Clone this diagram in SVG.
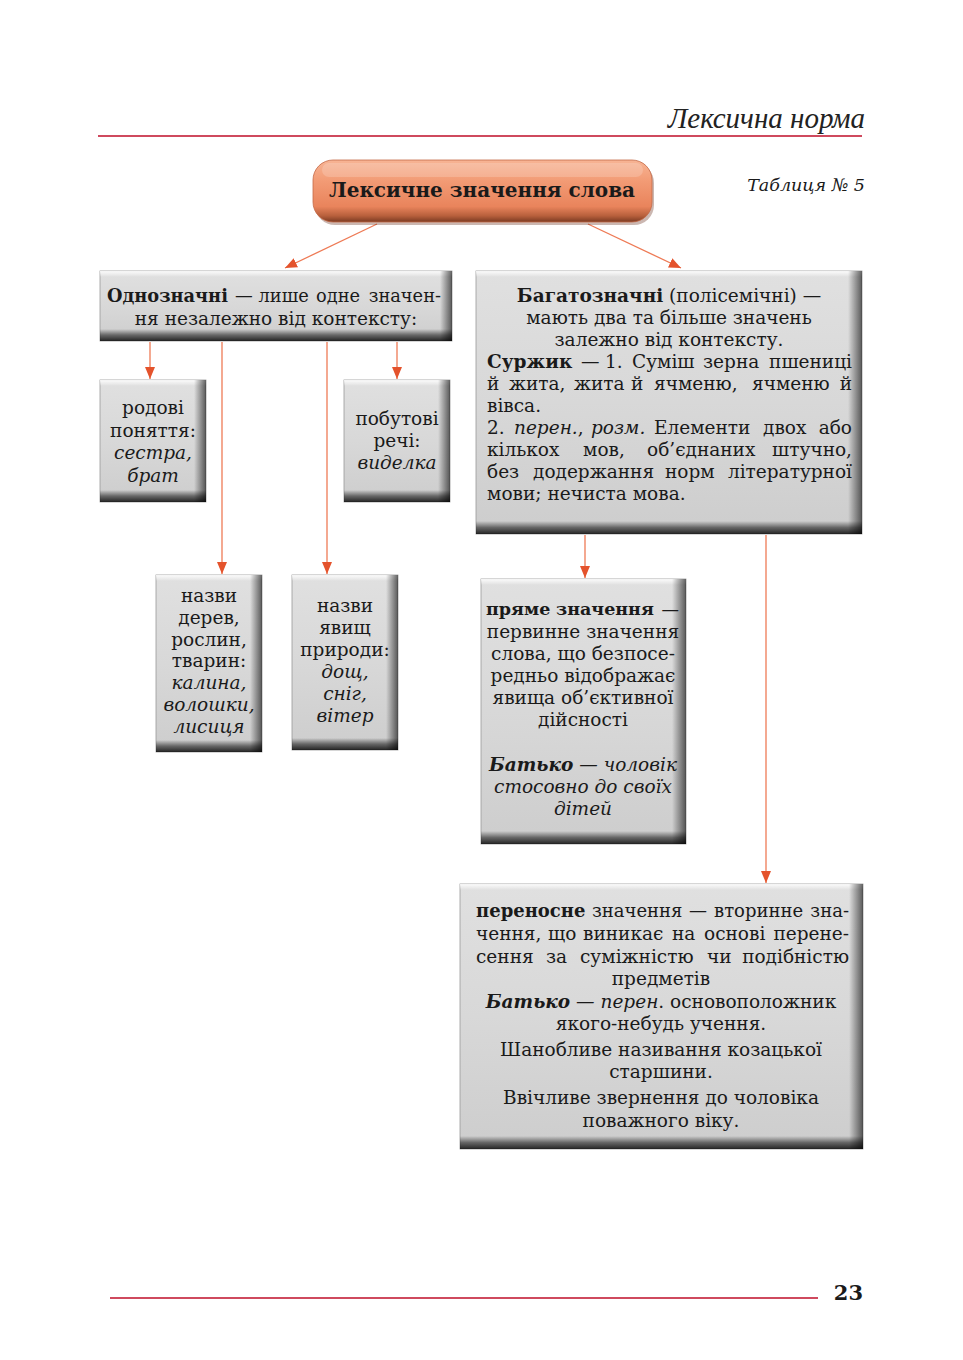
<svg xmlns="http://www.w3.org/2000/svg" width="963" height="1360" viewBox="0 0 963 1360">
<defs>
<style>
text{font-family:"DejaVu Serif","Liberation Serif",serif;font-size:18.5px;fill:#1a1a1a}
.c{text-anchor:middle}
.e{text-anchor:end}
.b{font-weight:bold}
.i{font-style:italic}
.body{fill:url(#gbody);stroke:#9a9a9a;stroke-width:0.8}
.rs{fill:url(#gr)}
.bs{fill:url(#gb)}
.ts{fill:url(#gt)}
.con{stroke:#ee7a55;stroke-width:1.3;fill:none;marker-end:url(#ah)}
.rule{stroke:#cf4a5e;stroke-width:2.2}
</style>
<linearGradient id="gbody" x1="0" y1="0" x2="0" y2="1">
<stop offset="0" stop-color="#e0e0e0"/><stop offset="0.5" stop-color="#d8d8d8"/><stop offset="1" stop-color="#cdcdcd"/>
</linearGradient>
<linearGradient id="gr" x1="0" y1="0" x2="1" y2="0">
<stop offset="0" stop-color="#000" stop-opacity="0"/><stop offset="1" stop-color="#000" stop-opacity="0.6"/>
</linearGradient>
<linearGradient id="gb" x1="0" y1="0" x2="0" y2="1">
<stop offset="0" stop-color="#000" stop-opacity="0"/><stop offset="0.5" stop-color="#000" stop-opacity="0.5"/><stop offset="1" stop-color="#000" stop-opacity="0.82"/>
</linearGradient>
<linearGradient id="gt" x1="0" y1="0" x2="0" y2="1">
<stop offset="0" stop-color="#fff" stop-opacity="0.9"/><stop offset="1" stop-color="#fff" stop-opacity="0"/>
</linearGradient>
<linearGradient id="gor" x1="0" y1="0" x2="0" y2="1">
<stop offset="0" stop-color="#f7b494"/><stop offset="0.35" stop-color="#f29a74"/><stop offset="0.75" stop-color="#e9845c"/><stop offset="0.9" stop-color="#b8603c"/><stop offset="1" stop-color="#7a3a22"/>
</linearGradient>
<marker id="ah" viewBox="0 0 12 10" refX="12" refY="5" markerWidth="12" markerHeight="10" markerUnits="userSpaceOnUse" orient="auto">
<path d="M0,0 L12,5 L0,10 Z" fill="#e4532c"/>
</marker>
</defs>

<rect width="963" height="1360" fill="#fff"/>

<g id="header">
<text x="865" y="128" style="font-family:'Liberation Serif',serif;font-style:italic;font-size:29px;text-anchor:end;fill:#222">Лексична норма</text>
<line class="rule" x1="98" y1="136" x2="862" y2="136"/>
<text x="865" y="191" class="i e" style="font-size:17.5px">Таблиця № 5</text>
</g>

<g id="connectors">
<line class="con" x1="377" y1="224" x2="285" y2="268"/>
<line class="con" x1="588" y1="224" x2="681" y2="268"/>
<line class="con" x1="150" y1="342" x2="150" y2="379"/>
<line class="con" x1="222" y1="342" x2="222" y2="574"/>
<line class="con" x1="327" y1="342" x2="327" y2="574"/>
<line class="con" x1="397" y1="342" x2="397" y2="379"/>
<line class="con" x1="585" y1="535" x2="585" y2="578"/>
<line class="con" x1="766" y1="535" x2="766" y2="883"/>
</g>

<g id="title">
<rect x="315" y="163" width="339" height="62" rx="20" fill="#6a3220" opacity="0.35"/>
<rect x="313" y="160" width="339" height="62" rx="20" fill="url(#gor)" stroke="#c46a48" stroke-width="0.8"/>
<rect x="322" y="163" width="321" height="14" rx="7" fill="#fff" opacity="0.18"/>
<text x="482" y="197" class="c b" style="font-size:20px">Лексичне значення слова</text>
</g>

<g id="odnoznachni">
<rect class="body" x="100" y="271" width="352" height="70"/>
<rect class="ts" x="100" y="271" width="352" height="6"/>
<rect class="rs" x="440" y="271" width="12" height="70"/>
<rect class="bs" x="100" y="329" width="352" height="12"/>
<text y="302" style="font-size:17.8px"><tspan x="107" class="b">Однозначні</tspan><tspan x="235">—</tspan><tspan x="258.5">лише</tspan><tspan x="316">одне</tspan><tspan x="441" class="e">значен-</tspan></text>
<text x="276" y="325" class="c">ня незалежно від контексту:</text>
</g>

<g id="bahatoznachni">
<rect class="body" x="476" y="271" width="386" height="263"/>
<rect class="ts" x="476" y="271" width="386" height="6"/>
<rect class="rs" x="848" y="271" width="14" height="263"/>
<rect class="bs" x="476" y="521" width="386" height="13"/>
<text x="669" y="302" class="c"><tspan class="b">Багатозначні</tspan> (полісемічні) —</text>
<text x="669" y="324" class="c">мають два та більше значень</text>
<text x="669" y="346" class="c">залежно від контексту.</text>
<text y="368"><tspan x="487" class="b">Суржик</tspan><tspan x="581">—</tspan><tspan x="605">1.</tspan><tspan x="632">Суміш</tspan><tspan x="703">зерна</tspan><tspan x="852" class="e">пшениці</tspan></text>
<text y="390"><tspan x="487">й</tspan><tspan x="509">жита,</tspan><tspan x="574">жита</tspan><tspan x="631">й</tspan><tspan x="654">ячменю,</tspan><tspan x="752">ячменю</tspan><tspan x="852" class="e">й</tspan></text>
<text x="487" y="412">вівса.</text>
<text y="434"><tspan x="487">2.</tspan><tspan x="514" class="i">перен.</tspan><tspan>,</tspan><tspan x="591" class="i">розм.</tspan><tspan x="654">Елементи</tspan><tspan x="763">двох</tspan><tspan x="852" class="e">або</tspan></text>
<text y="456"><tspan x="487">кількох</tspan><tspan x="583">мов,</tspan><tspan x="647">об’єднаних</tspan><tspan x="852" class="e">штучно,</tspan></text>
<text y="478"><tspan x="487">без</tspan><tspan x="533">додержання</tspan><tspan x="665">норм</tspan><tspan x="852" class="e">літературної</tspan></text>
<text x="487" y="500">мови; нечиста мова.</text>
</g>

<g id="rodovi">
<rect class="body" x="100" y="380" width="106" height="122"/>
<rect class="ts" x="100" y="380" width="106" height="6"/>
<rect class="rs" x="194" y="380" width="12" height="122"/>
<rect class="bs" x="100" y="490" width="106" height="12"/>
<text x="153" y="414" class="c">родові</text>
<text x="153" y="437" class="c">поняття:</text>
<text x="153" y="459" class="c i">сестра,</text>
<text x="153" y="482" class="c i">брат</text>
</g>

<g id="pobutovi">
<rect class="body" x="344" y="380" width="106" height="122"/>
<rect class="ts" x="344" y="380" width="106" height="6"/>
<rect class="rs" x="438" y="380" width="12" height="122"/>
<rect class="bs" x="344" y="490" width="106" height="12"/>
<text x="397" y="425" class="c">побутові</text>
<text x="397" y="447" class="c">речі:</text>
<text x="397" y="469" class="c i">виделка</text>
</g>

<g id="derev">
<rect class="body" x="156" y="575" width="106" height="177"/>
<rect class="ts" x="156" y="575" width="106" height="6"/>
<rect class="rs" x="250" y="575" width="12" height="177"/>
<rect class="bs" x="156" y="740" width="106" height="12"/>
<text x="209" y="602" class="c">назви</text>
<text x="209" y="624" class="c">дерев,</text>
<text x="209" y="646" class="c">рослин,</text>
<text x="209" y="667" class="c">тварин:</text>
<text x="209" y="689" class="c i">калина,</text>
<text x="209" y="711" class="c i">волошки,</text>
<text x="209" y="733" class="c i">лисиця</text>
</g>

<g id="yavyshch">
<rect class="body" x="292" y="575" width="106" height="175"/>
<rect class="ts" x="292" y="575" width="106" height="6"/>
<rect class="rs" x="386" y="575" width="12" height="175"/>
<rect class="bs" x="292" y="738" width="106" height="12"/>
<text x="345" y="612" class="c">назви</text>
<text x="345" y="634" class="c">явищ</text>
<text x="345" y="656" class="c">природи:</text>
<text x="345" y="678" class="c i">дощ,</text>
<text x="345" y="700" class="c i">сніг,</text>
<text x="345" y="722" class="c i">вітер</text>
</g>

<g id="pryame">
<rect class="body" x="481" y="579" width="205" height="265"/>
<rect class="ts" x="481" y="579" width="205" height="6"/>
<rect class="rs" x="672" y="579" width="14" height="265"/>
<rect class="bs" x="481" y="831" width="205" height="13"/>
<text y="615" style="font-size:17.5px"><tspan x="486" class="b">пряме</tspan><tspan x="556" class="b">значення</tspan><tspan x="679" class="e">—</tspan></text>
<text x="583" y="638" class="c">первинне значення</text>
<text x="583" y="660" class="c">слова, що безпосе-</text>
<text x="583" y="682" class="c">редньо відображає</text>
<text x="583" y="704" class="c">явища об’єктивної</text>
<text x="583" y="726" class="c">дійсності</text>
<text x="583" y="771" class="c i"><tspan class="b">Батько</tspan> — чоловік</text>
<text x="583" y="793" class="c i">стосовно до своїх</text>
<text x="583" y="815" class="c i">дітей</text>
</g>

<g id="perenosne">
<rect class="body" x="460" y="884" width="403" height="265"/>
<rect class="ts" x="460" y="884" width="403" height="6"/>
<rect class="rs" x="849" y="884" width="14" height="265"/>
<rect class="bs" x="460" y="1136" width="403" height="13"/>
<text y="917" style="font-size:18px"><tspan x="476" class="b">переносне</tspan><tspan x="592">значення</tspan><tspan x="689">—</tspan><tspan x="714">вторинне</tspan><tspan x="849" class="e">зна-</tspan></text>
<text y="940"><tspan x="476">чення,</tspan><tspan x="548">що</tspan><tspan x="583">виникає</tspan><tspan x="672">на</tspan><tspan x="704">основі</tspan><tspan x="849" class="e">перене-</tspan></text>
<text y="963"><tspan x="476">сення</tspan><tspan x="546">за</tspan><tspan x="580">суміжністю</tspan><tspan x="707">чи</tspan><tspan x="849" class="e">подібністю</tspan></text>
<text x="661" y="985" class="c">предметів</text>
<text x="661" y="1008" class="c"><tspan class="b i">Батько</tspan> <tspan class="i">— перен</tspan>. основоположник</text>
<text x="661" y="1030" class="c">якого-небудь учення.</text>
<text x="661" y="1056" class="c">Шанобливе називання козацької</text>
<text x="661" y="1078" class="c">старшини.</text>
<text x="661" y="1104" class="c">Ввічливе звернення до чоловіка</text>
<text x="661" y="1127" class="c">поважного віку.</text>
</g>

<g id="footer">
<line class="rule" x1="110" y1="1298" x2="818" y2="1298"/>
<text x="863" y="1300" class="b e" style="font-size:21px">23</text>
</g>
</svg>
